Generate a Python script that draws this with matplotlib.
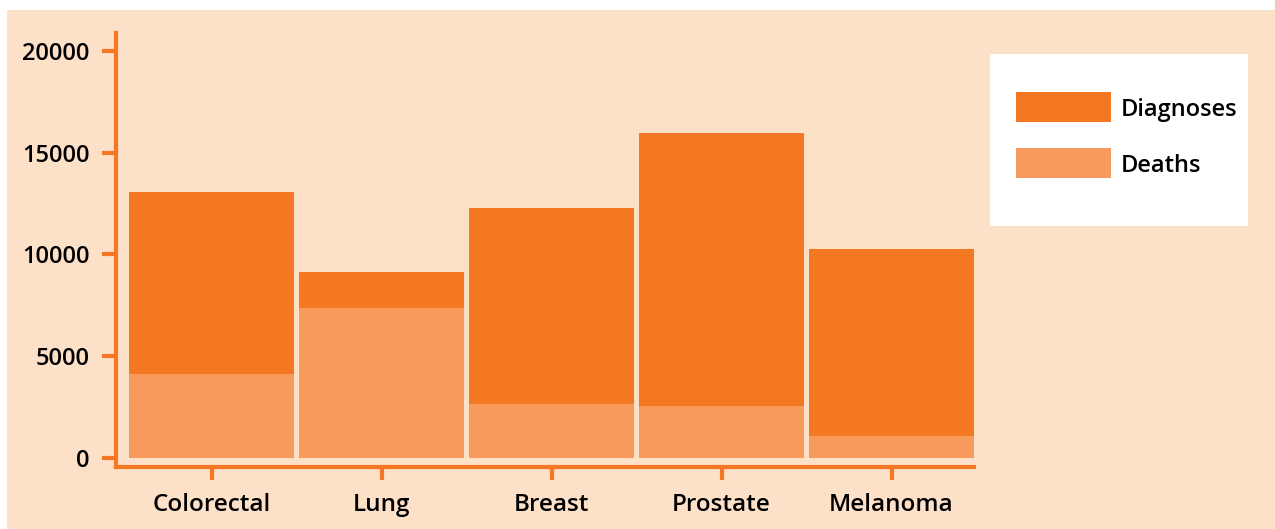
import matplotlib
matplotlib.use("Agg")
import matplotlib.pyplot as plt
from matplotlib.patches import Rectangle

categories = ["Colorectal", "Lung", "Breast", "Prostate", "Melanoma"]
diagnoses = [13060, 9120, 12270, 15960, 10250]
deaths = [4110, 7350, 2620, 2530, 1060]
y_ticks = [0, 5000, 10000, 15000, 20000]
series_names = ["Diagnoses", "Deaths"]

W, H = 1275, 529
BG = "#FDE0C8"
C_DIAG = "#F47721"
C_DEATH = "#F79B5C"
AX = "#F47721"
plt.rcParams["font.family"] = ["Open Sans", "DejaVu Sans"]
FW = "semibold"

fig = plt.figure(figsize=(W / 100, H / 100), dpi=100)
fig.patch.set_facecolor("white")
fig.patches.append(Rectangle((7 / W, 0), 1 - 7 / W, 1 - 10 / H, transform=fig.transFigure,
                             facecolor=BG, edgecolor="none", zorder=-10))

left, right = 116 / W, 974 / W
top, bottom = 32.7 / H, 466.7 / H
ax = fig.add_axes([left, 1 - bottom, right - left, bottom - top])
ax.set_facecolor("none")

x = list(range(len(categories)))
ax.bar(x, diagnoses, width=0.97, color=C_DIAG, zorder=2)
ax.bar(x, deaths, width=0.97, color=C_DEATH, zorder=3)

ax.set_xlim(-0.562, 4.485)
ax.set_ylim(-447, 20890)
ax.set_yticks(y_ticks)
ax.set_yticklabels([str(v) for v in y_ticks], fontweight=FW)
ax.set_xticks(x)
ax.set_xticklabels(categories, fontweight=FW)

for s in ["top", "right"]:
    ax.spines[s].set_visible(False)
for s in ["left", "bottom"]:
    ax.spines[s].set_color(AX)
    ax.spines[s].set_linewidth(3)
ax.tick_params(axis="y", colors=AX, length=10, width=3, labelcolor="black",
               labelsize=17, pad=9)
ax.tick_params(axis="x", colors=AX, length=9, width=3, labelcolor="black",
               labelsize=17.5, pad=10)

# legend box
fig.patches.append(Rectangle((990 / W, 1 - 226 / H), 258 / W, 172 / H,
                             transform=fig.transFigure, facecolor="white",
                             edgecolor="none", zorder=1))
for name, col, y0 in [(series_names[0], C_DIAG, 92), (series_names[1], C_DEATH, 148)]:
    fig.patches.append(Rectangle((1016 / W, 1 - (y0 + 30) / H), 95 / W, 30 / H,
                                 transform=fig.transFigure, facecolor=col,
                                 edgecolor="none", zorder=2))
    fig.text(1121 / W, 1 - (y0 + 18.5) / H, name, fontsize=17, va="center",
             ha="left", color="black", fontweight=FW, zorder=3)

fig.savefig("out.png", dpi=100, facecolor=fig.get_facecolor())
